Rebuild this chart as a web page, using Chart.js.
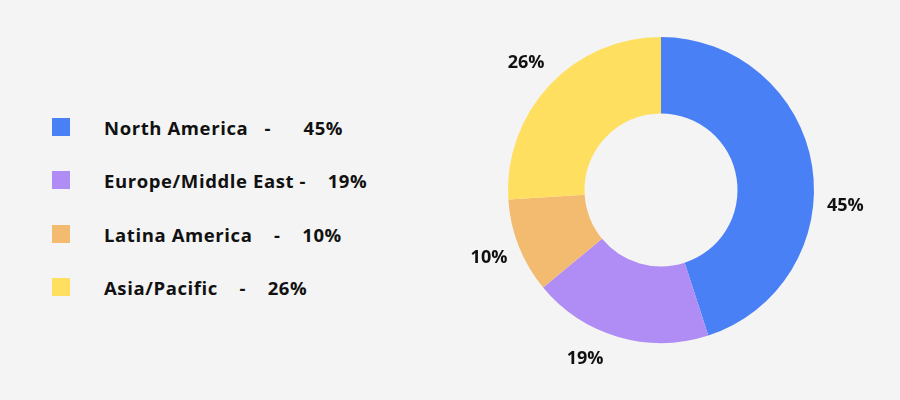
<!DOCTYPE html>
<html><head><meta charset="utf-8">
<script src="https://cdn.jsdelivr.net/npm/chart.js@4"></script>
<style>
body{margin:0;width:900px;height:400px;background:#f4f4f4;font-family:"Open Sans",sans-serif;overflow:hidden;position:relative}
#wrap{position:absolute;left:391px;top:0;width:540px;height:380px}
.row{position:absolute;left:52px;height:20px;display:flex;align-items:center;font-weight:700;font-size:18.5px;letter-spacing:0.6px;color:#111;white-space:pre}
.sq{width:18px;height:18px;margin-right:34px}
</style></head><body>
<div id="legend"></div>
<div id="wrap"><canvas id="c"></canvas></div>
<script>
const categories=["North America","Europe/Middle East","Latina America","Asia/Pacific"];
const values=[45,19,10,26];
const colors=["#4a80f5","#b08cf5","#f3bb70","#fedf5f"];
const legendText=["North America   -      45%","Europe/Middle East -    19%","Latina America    -    10%","Asia/Pacific    -    26%"];
const legendTops=[117,170,224,277];
const labelAngleNudgeDeg=[14,8,0,0];
const lg=document.getElementById('legend');
categories.forEach((c,i)=>{
  const r=document.createElement('div');r.className='row';r.style.top=legendTops[i]+'px';
  r.innerHTML='<div class="sq" style="background:'+colors[i]+'"></div><span>'+legendText[i]+'</span>';
  lg.appendChild(r);
});
const labelPlugin={id:'lbl',afterDatasetsDraw(chart){
  const ctx=chart.ctx;ctx.save();
  ctx.font='bold 18px "Open Sans"';ctx.fillStyle='#111';ctx.textAlign='center';ctx.textBaseline='middle';
  chart.getDatasetMeta(0).data.forEach((a,i)=>{
    const ang=(a.startAngle+a.endAngle)/2+labelAngleNudgeDeg[i]*Math.PI/180,r=a.outerRadius+32;
    ctx.fillText(values[i]+'%',a.x+Math.cos(ang)*r,a.y+Math.sin(ang)*r);
  });ctx.restore();}};
new Chart(document.getElementById('c'),{type:'doughnut',
 data:{labels:categories,datasets:[{data:values,backgroundColor:colors,borderWidth:0}]},
 options:{responsive:true,maintainAspectRatio:false,animation:false,cutout:'50%',
  layout:{padding:{left:117,right:117,top:37,bottom:37}},
  plugins:{legend:{display:false},tooltip:{enabled:false}}},
 plugins:[labelPlugin]});
</script></body></html>
